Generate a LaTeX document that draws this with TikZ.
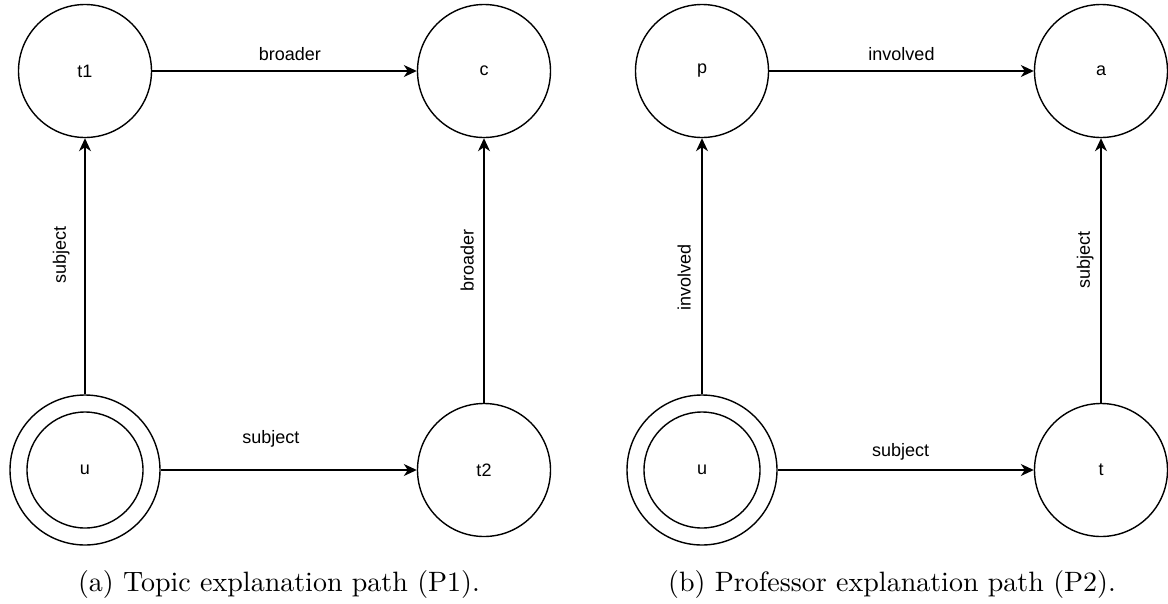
\documentclass[tikz,border=0pt]{standalone}
\usepackage{graphicx}
\usepackage{fontspec}
\setsansfont{Liberation Sans}
\usetikzlibrary{arrows.meta}
\begin{document}
\begin{tikzpicture}[x=1pt,y=-1pt,
  state/.style={circle, draw, line width=1.4pt, minimum size=133pt, inner sep=0pt,
                font=\sffamily\fontsize{18}{21}\selectfont},
  link/.style={draw, line width=1.4pt, -{Stealth[length=13pt,width=12pt,inset=4pt]}},
  lbl/.style={font=\sffamily\fontsize{18}{21}\selectfont, inner sep=0pt},
  captext/.style={anchor=base, inner sep=0pt}]
\useasboundingbox (0,0) rectangle (1168,603);

% ---- (a) topic path ----
\node[state] (t1) at (85,71) {t1};
\node[state] (c) at (484,71) {c};
\node[state] (t2) at (484,470) {t2};
\node[state, minimum size=150pt] (uA) at (85,470) {};
\node[state, minimum size=116pt] (uAin) at (uA) {u};

\path[link] (t1) -- node[lbl, pos=.52, above=9.5pt] {broader} (c);
\path[link] (uA) -- node[lbl, pos=.545, sloped, above=14.6pt] {subject} (t1);
\path[link] (uA) -- node[lbl, pos=.43, above=21.6pt] {subject} (t2);
\path[link] (t2) -- node[lbl, pos=.538, sloped, above=9.5pt] {broader} (c);

% ---- (b) professor path ----
\node[state] (p) at (702,71) {p};
\node[state] (a) at (1101,71) {a};
\node[state] (t) at (1101,470) {t};
\node[state, minimum size=150pt] (uB) at (702,470) {};
\node[state, minimum size=116pt] (uBin) at (uB) {u};

\path[link] (p) -- node[lbl, pos=.5, above=9.5pt] {involved} (a);
\path[link] (uB) -- node[lbl, pos=.455, sloped, above=10.5pt] {involved} (p);
\path[link] (uB) -- node[lbl, pos=.48, above=8.6pt] {subject} (t);
\path[link] (t) -- node[lbl, pos=.54, sloped, above=6.6pt] {subject} (a);

% ---- captions ----
\node[captext] (capA) at (279,591) {\scalebox{2.8}{\fontsize{10}{12}\selectfont (a) Topic explanation path (P1).}};
\node[captext] (capB) at (892,591) {\scalebox{2.8}{\fontsize{10}{12}\selectfont (b) Professor explanation path (P2).}};
\end{tikzpicture}
\end{document}
